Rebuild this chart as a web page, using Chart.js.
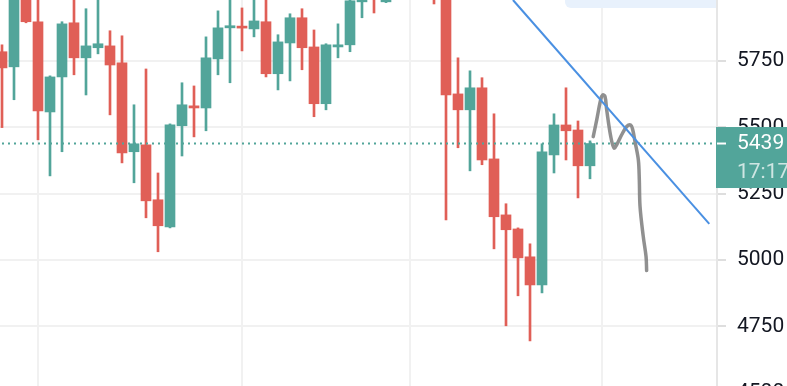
<!DOCTYPE html>
<html>
<head>
<meta charset="utf-8">
<script src="https://cdn.jsdelivr.net/npm/chart.js@4/dist/chart.umd.min.js"></script>
<style>
  html, body { margin: 0; padding: 0; background: #fff; overflow: hidden; }
  #wrap { position: absolute; left: 0; top: -30px; width: 787px; height: 446px; }
  #hint { position: absolute; left: 565px; top: 0; width: 151px; height: 8px;
          background: #e8f1fc; border-bottom-left-radius: 6px; }
</style>
</head>
<body>
<div id="wrap"><canvas id="candles"></canvas></div>
<div id="hint"></div>
<script>
// candle data, one entry per bar (index = bar number)
const opens  = [5785, 5728, 6000, 5898, 5558, 5690, 5894, 5762, 5800, 5807,
                5743, 5408, 5434, 5227, 5125, 5506, 5581, 5573, 5758, 5875,
                5879, 5871, 5898, 5702, 5818, 5913, 5803, 5589, 5803, 5811,
                5973, 6037, 5973, 5985, 6040, 6010, 6030, 6000, 5626, 5566,
                5649, 5381, 5170, 5117, 5012, 4906, 5396, 5509, 5490, 5355];
const highs  = [5811, 6010, 6020, 5990, 5694, 5898, 5985, 5947, 5990, 5864,
                5845, 5585, 5720, 5328, 5513, 5668, 5656, 5841, 5939, 5988,
                5950, 5985, 5990, 5849, 5928, 5947, 5867, 5815, 5890, 6000,
                6026, 6050, 6000, 6070, 6080, 6060, 6055, 6020, 5762, 5713,
                5687, 5551, 5212, 5121, 5061, 5438, 5551, 5649, 5524, 5449];
const lows   = [5499, 5604, 5894, 5453, 5317, 5408, 5698, 5622, 5777, 5547,
                5366, 5291, 5159, 5031, 5121, 5392, 5464, 5487, 5698, 5668,
                5788, 5841, 5690, 5641, 5675, 5717, 5540, 5566, 5762, 5785,
                5913, 5931, 5970, 5995, 6000, 5995, 5965, 5151, 5423, 5336,
                5359, 5042, 4752, 4865, 4695, 4876, 5328, 5377, 5234, 5306];
const closes = [5724, 5990, 5898, 5562, 5690, 5890, 5762, 5807, 5815, 5735,
                5404, 5438, 5223, 5129, 5509, 5585, 5573, 5762, 5875, 5883,
                5874, 5901, 5702, 5822, 5913, 5800, 5589, 5811, 5811, 5977,
                5996, 5988, 5980, 6040, 6010, 6035, 6000, 5622, 5566, 5649,
                5377, 5163, 5114, 5008, 4906, 5408, 5509, 5487, 5355, 5439];

const priceTicks = [4500, 4750, 5000, 5250, 5500, 5750, 6000];
const timeGrid = [3, 20, 34, 50];          // bar numbers where the time grid falls
const countdown = '17:17';

// drawings on the chart, in (bar number, price)
const trendX = [42.58, 58.94];
const trendY = [5980, 5136];
const scribbleX = [49.27, 49.56, 49.89, 50.06, 50.25, 50.39, 50.73, 51.0, 51.22, 51.64,
                   52.06, 52.39, 52.56, 52.75, 53.03, 53.11, 53.17, 53.44, 53.67, 53.72];
const scribbleY = [5465, 5528, 5604, 5622, 5616, 5566, 5465, 5422, 5434, 5472,
                   5503, 5509, 5491, 5446, 5377, 5302, 5201, 5088, 5013, 4960];

const UP = '#52a59a';
const DOWN = '#e05f57';
const GRID = '#f1f1f1';
const TEXT = '#131722';
const FONT = { family: 'Roboto', size: 21 };

const last = closes[closes.length - 1];
const colors = closes.map((c, i) => (c >= opens[i] ? UP : DOWN));

const priceTag = {
  id: 'priceTag',
  afterDraw(chart) {
    const { ctx, chartArea } = chart;
    const y = chart.scales.y.getPixelForValue(last);
    ctx.save();
    ctx.fillStyle = UP;
    ctx.fillRect(chartArea.right - 1, y - 16.5, chart.width - chartArea.right + 1, 61);
    ctx.strokeStyle = '#ffffff';
    ctx.lineWidth = 2;
    ctx.beginPath();
    ctx.moveTo(chartArea.right, y);
    ctx.lineTo(chartArea.right + 9, y);
    ctx.stroke();
    ctx.font = '21px Roboto';
    ctx.textBaseline = 'middle';
    ctx.fillStyle = '#ffffff';
    ctx.fillText(String(last), chartArea.right + 20, y);
    ctx.fillStyle = 'rgba(255,255,255,0.72)';
    ctx.fillText(countdown, chartArea.right + 20, y + 29);
    ctx.restore();
  },
};

new Chart(document.getElementById('candles'), {
  type: 'bar',
  data: {
    datasets: [
      {
        label: 'wicks',
        data: opens.map((_, i) => ({ x: i, y: [lows[i], highs[i]] })),
        backgroundColor: colors,
        barThickness: 2,
        grouped: false,
        borderSkipped: false,
        order: 3,
      },
      {
        label: 'bodies',
        data: opens.map((o, i) => ({ x: i, y: [o, closes[i]] })),
        backgroundColor: colors,
        barThickness: 10,
        minBarLength: 2,
        grouped: false,
        borderSkipped: false,
        order: 2,
      },
      {
        type: 'line',
        label: 'last price',
        data: [{ x: -1, y: last }, { x: 61, y: last }],
        borderColor: UP,
        borderWidth: 2,
        borderDash: [2, 4],
        pointRadius: 0,
        order: 1,
      },
      {
        type: 'line',
        label: 'trend',
        data: trendX.map((x, i) => ({ x, y: trendY[i] })),
        borderColor: '#4a90e2',
        borderWidth: 2,
        pointRadius: 0,
        order: 0,
      },
      {
        type: 'line',
        label: 'scribble',
        data: scribbleX.map((x, i) => ({ x, y: scribbleY[i] })),
        borderColor: 'rgba(125,125,125,0.85)',
        borderWidth: 3.5,
        borderCapStyle: 'round',
        borderJoinStyle: 'round',
        tension: 0.35,
        pointRadius: 0,
        order: 0,
      },
    ],
  },
  options: {
    responsive: true,
    maintainAspectRatio: false,
    animation: false,
    layout: { padding: 0 },
    plugins: { legend: { display: false }, tooltip: { enabled: false } },
    scales: {
      x: {
        type: 'linear',
        min: -1 / 6,
        max: 715 / 12,
        offset: false,
        afterBuildTicks: (s) => { s.ticks = timeGrid.map((v) => ({ value: v })); },
        afterFit: (s) => {
          s.height = 0;
          s.paddingLeft = 0;
          s.paddingRight = 0;
        },
        ticks: { display: false },
        grid: { color: GRID, lineWidth: 2, drawTicks: false, offset: false },
        border: { display: false },
      },
      y: {
        position: 'right',
        min: 4412,
        max: 6093,
        afterBuildTicks: (s) => { s.ticks = priceTicks.map((v) => ({ value: v })); },
        afterFit: (s) => {
          s.width = 70;
          s.paddingTop = 0;
          s.paddingBottom = 0;
        },
        ticks: { color: TEXT, font: FONT, padding: 11, callback: (v) => String(v) },
        grid: { color: GRID, lineWidth: 2, tickLength: 9, tickColor: '#dedede' },
        border: { color: '#e6e6e6', width: 2 },
      },
    },
  },
  plugins: [priceTag],
});
</script>
</body>
</html>
